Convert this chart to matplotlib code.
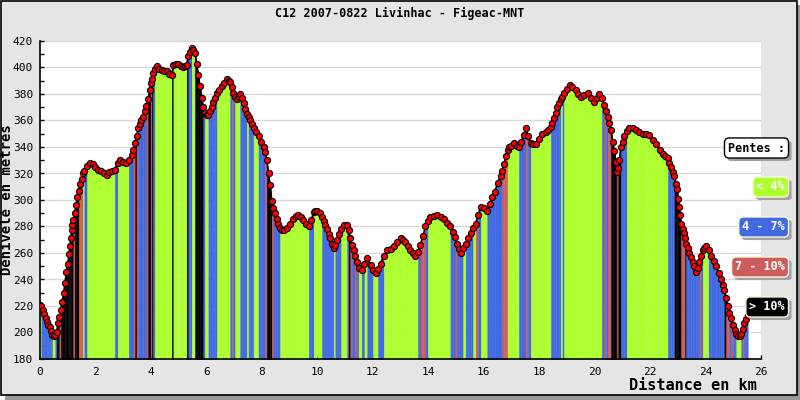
import matplotlib
matplotlib.use("Agg")
import matplotlib.pyplot as plt
from matplotlib.patches import Rectangle, FancyBboxPatch
import numpy as np

TITLE = "C12 2007-0822 Livinhac - Figeac-MNT"

# profile, one row per km (km / metres)
distance_km = [
    0.00, 0.05, 0.10, 0.15, 0.20, 0.25, 0.30, 0.35, 0.40, 0.45, 0.50, 0.55, 0.60, 0.65, 0.70, 0.75, 0.80, 0.85, 0.90, 0.95,
    1.00, 1.05, 1.08, 1.11, 1.14, 1.17, 1.20, 1.25, 1.30, 1.35, 1.40, 1.45, 1.50, 1.55, 1.60, 1.70, 1.80, 1.90,
    2.00, 2.10, 2.20, 2.30, 2.40, 2.50, 2.60, 2.70, 2.80, 2.90, 3.00, 3.10,
    3.20, 3.30, 3.37, 3.43, 3.48, 3.54, 3.60, 3.66, 3.72, 3.78, 3.84, 3.90, 3.96, 4.00, 4.03, 4.08, 4.14,
    4.21, 4.30, 4.39, 4.48, 4.57, 4.66, 4.75, 4.81, 4.90, 4.99, 5.08, 5.17,
    5.23, 5.29, 5.35, 5.41, 5.47, 5.53, 5.59, 5.65, 5.71, 5.77, 5.83, 5.89, 5.95, 6.01, 6.07, 6.13, 6.19,
    6.25, 6.31, 6.38, 6.47, 6.56, 6.65, 6.74, 6.80, 6.86, 6.92, 6.97, 7.04, 7.10, 7.16,
    7.22, 7.28, 7.34, 7.40, 7.46, 7.52, 7.58, 7.64, 7.70, 7.79, 7.88, 7.97, 8.06, 8.12, 8.18,
    8.24, 8.30, 8.36, 8.42, 8.48, 8.54, 8.60, 8.66, 8.72, 8.80, 8.90, 9.00, 9.14,
    9.23, 9.32, 9.41, 9.50, 9.60, 9.69, 9.78, 9.87, 9.93, 9.99, 10.08, 10.17,
    10.23, 10.29, 10.35, 10.41, 10.47, 10.53, 10.59, 10.65, 10.71, 10.77, 10.86, 10.95, 11.07, 11.13, 11.19,
    11.25, 11.31, 11.37, 11.43, 11.49, 11.60, 11.70, 11.80, 11.92, 12.01, 12.10, 12.19,
    12.28, 12.40, 12.52, 12.64, 12.76, 12.88, 13.00, 13.09, 13.18,
    13.27, 13.36, 13.45, 13.54, 13.63, 13.72, 13.81, 13.90, 13.99, 14.08, 14.20,
    14.33, 14.45, 14.56, 14.68, 14.80, 14.89, 14.98, 15.05, 15.11, 15.17,
    15.26, 15.35, 15.44, 15.53, 15.62, 15.71, 15.80, 15.90, 16.01, 16.13,
    16.22, 16.31, 16.40, 16.50, 16.61, 16.67, 16.73, 16.80, 16.86, 16.93, 17.00, 17.10,
    17.20, 17.27, 17.35, 17.44, 17.52, 17.60, 17.70, 17.79, 17.88, 18.00, 18.12,
    18.25, 18.33, 18.42, 18.48, 18.54, 18.60, 18.66, 18.72, 18.78, 18.84, 18.90, 19.00, 19.10,
    19.20, 19.32, 19.41, 19.50, 19.62, 19.75, 19.87, 19.99, 20.08, 20.17,
    20.26, 20.35, 20.41, 20.47, 20.53, 20.59, 20.65, 20.71, 20.77, 20.81, 20.85, 20.89, 20.95, 21.01, 21.07, 21.16,
    21.25, 21.37, 21.49, 21.61, 21.73, 21.85, 21.97, 22.09,
    22.22, 22.34, 22.46, 22.55, 22.64, 22.70, 22.76, 22.82, 22.88, 22.93, 22.97, 23.02, 23.06, 23.09, 23.12, 23.17,
    23.21, 23.26, 23.30, 23.36, 23.42, 23.48, 23.54, 23.60, 23.66, 23.72, 23.78, 23.84, 23.90, 23.96, 24.02, 24.11,
    24.20, 24.29, 24.38, 24.47, 24.56, 24.62, 24.68, 24.74, 24.80, 24.86, 24.93, 24.99, 25.05, 25.11, 25.17,
    25.23, 25.29, 25.35, 25.40, 25.46, 25.52,
]
altitude_m = [
    221, 220, 217, 214, 211, 208, 206, 204, 201, 198, 197, 198, 200, 207, 212, 217, 223, 230, 237, 246,
    252, 259, 265, 271, 277, 281, 285, 290, 296, 302, 307, 312, 316, 320, 322, 326, 328, 327,
    325, 323, 322, 320, 319, 321, 322, 323, 328, 330, 329, 328,
    330, 334, 338, 343, 348, 354, 357, 360, 363, 367, 371, 376, 383, 388, 391, 396, 399,
    401, 399, 398, 397, 397, 395, 394, 402, 403, 403, 401, 400,
    401, 402, 409, 412, 415, 413, 411, 403, 394, 386, 377, 370, 366, 364, 364, 367, 370,
    374, 377, 381, 383, 386, 388, 391, 390, 389, 385, 381, 378, 376, 378,
    380, 377, 373, 369, 365, 363, 360, 357, 354, 351, 348, 344, 340, 336, 330,
    320, 311, 299, 294, 290, 286, 282, 279, 277, 277, 279, 282, 286,
    288, 289, 287, 285, 282, 280, 285, 291, 292, 292, 290, 287,
    284, 281, 278, 274, 271, 267, 264, 266, 270, 274, 278, 281, 281, 277, 271,
    266, 262, 258, 253, 249, 247, 252, 256, 251, 247, 245, 248,
    252, 258, 262, 263, 265, 268, 271, 270, 268,
    265, 262, 260, 258, 261, 266, 273, 280, 284, 287, 288,
    289, 287, 286, 283, 280, 276, 272, 267, 263, 260,
    264, 267, 271, 275, 279, 282, 289, 295, 294, 292,
    297, 302, 306, 313, 318, 322, 327, 333, 338, 340, 341, 343,
    341, 340, 344, 349, 354, 348, 343, 342, 342, 346, 350,
    351, 353, 355, 358, 362, 366, 370, 373, 376, 378, 381, 384, 387,
    385, 383, 380, 378, 379, 381, 377, 374, 377, 380,
    377, 372, 367, 363, 358, 353, 344, 337, 329, 321, 324, 330, 340, 344, 348, 352,
    354, 354, 353, 351, 350, 350, 349, 345,
    342, 338, 335, 333, 332, 328, 325, 321, 318, 312, 308, 301, 295, 289, 282, 278,
    275, 271, 267, 264, 260, 257, 253, 250, 246, 249, 253, 258, 262, 264, 265, 262,
    258, 254, 250, 245, 240, 236, 232, 226, 220, 215, 211, 206, 202, 199, 197,
    197, 199, 203, 207, 210, 213,
]

slope_labels = ["< 4%", "4 - 7%", "7 - 10%", "> 10%"]
slope_limits = [4, 7, 10]
slope_colors = ["#adff2f", "#4169e1", "#cd5c5c", "#000000"]

x_ticks = list(range(0, 27, 2))
y_ticks = list(range(180, 421, 20))

W, H = 800, 400
fig = plt.figure(figsize=(W / 100, H / 100), dpi=100)
fig.patch.set_facecolor("white")

# panel with shadow
fig.patches.append(Rectangle((5 / W, 0), 795 / W, 395 / H, transform=fig.transFigure,
                             facecolor="#9a9a9a", edgecolor="none", zorder=-2))
fig.patches.append(Rectangle((0.5 / W, 5.5 / H), 796 / W, 394 / H, transform=fig.transFigure,
                             facecolor="#e5e5e5", edgecolor="black", linewidth=1.2, zorder=-1))

ax = fig.add_axes([40 / W, 1 - 359 / H, 721 / W, 318 / H])
ax.set_facecolor("white")
ax.set_zorder(2)

x = np.array(distance_km)
z = np.array(altitude_m, dtype=float)
pente = np.abs(np.diff(z)) / (np.diff(x) * 1000) * 100
cls = np.digitize(pente, slope_limits)

for i in range(len(x) - 1):
    ax.fill_between(x[i:i + 2], z[i:i + 2], 180, color=slope_colors[cls[i]],
                    linewidth=0.3, edgecolor=slope_colors[cls[i]], zorder=2)

ax.plot(x, z, color="black", linewidth=1.2, zorder=3)
ax.plot(x, z, linestyle="none", marker="o", markersize=4.4,
        markerfacecolor="#ff0000", markeredgecolor="black", markeredgewidth=0.8, zorder=4)

ax.set_xlim(0, 26)
ax.set_ylim(180, 420)
ax.set_xticks(x_ticks)
ax.set_xticks(range(0, 27), minor=True)
ax.set_yticks(y_ticks)
ax.set_yticks(range(180, 421, 10), minor=True)
ax.grid(axis="y", which="major", color="#d8d8d8", linewidth=1, zorder=1)
ax.set_axisbelow(True)
for s in ["top", "right"]:
    ax.spines[s].set_visible(False)
ax.spines["left"].set_linewidth(1.2)
ax.spines["bottom"].set_linewidth(1.2)
ax.tick_params(which="both", direction="in", length=3, width=1, labelsize=8)
ax.tick_params(axis="x", pad=6)
ax.tick_params(axis="y", pad=5)
for lab in ax.get_xticklabels() + ax.get_yticklabels():
    lab.set_family("DejaVu Sans Mono")

fig.text(400 / W, 1 - 13 / H, TITLE, ha="center", va="center", family="DejaVu Sans Mono",
         fontweight="bold", fontsize=8.5)
fig.text(7 / W, 1 - 200 / H, "Dénivelé en metres", rotation=90, ha="center", va="center",
         family="DejaVu Sans Mono", fontweight="bold", fontsize=10)
fig.text(757 / W, 1 - 386 / H, "Distance en km", ha="right", va="center",
         family="DejaVu Sans Mono", fontweight="bold", fontsize=11)

# legend boxes
legend_texts = []
style = "round,pad=0.3,rounding_size=0.4"
t = fig.text(785 / W, 1 - 148 / H, "Pentes :", ha="right", va="center", family="DejaVu Sans Mono",
             fontweight="bold", fontsize=8.5, color="black", zorder=10,
             bbox=dict(boxstyle=style, facecolor="white", edgecolor="black", linewidth=1))
legend_texts.append(t)
ys = [187, 227, 267, 307]
for lab, col, yy in zip(slope_labels, slope_colors, ys):
    t = fig.text(785 / W, 1 - yy / H, lab, ha="right", va="center", family="DejaVu Sans Mono",
                 fontweight="bold", fontsize=8.5, color="white", zorder=10,
                 bbox=dict(boxstyle=style, facecolor=col, edgecolor="#fff8dc", linewidth=1))
    legend_texts.append(t)

# grey shadow under each box, offset by 3 px
fig.canvas.draw()
for t in legend_texts:
    bb = t.get_bbox_patch().get_window_extent()
    fig.patches.append(FancyBboxPatch(((bb.x0 + 3) / W, (bb.y0 - 3) / H), bb.width / W, bb.height / H,
                                      boxstyle="round,pad=0,rounding_size=0.006",
                                      transform=fig.transFigure, facecolor="#a0a0a0",
                                      edgecolor="none", zorder=9))

fig.savefig("out.png", dpi=100)
